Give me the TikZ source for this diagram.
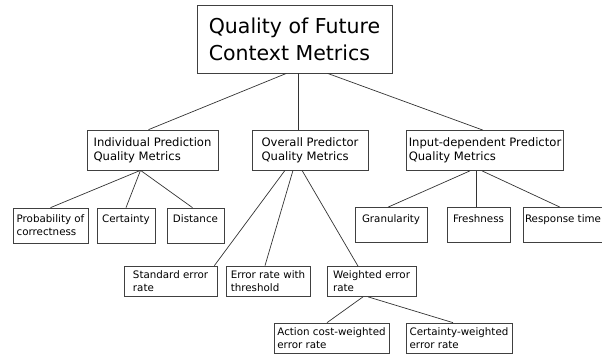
\documentclass[tikz,border=0pt]{standalone}
\usepackage{fontspec}
\setmainfont{DejaVu Sans}

\begin{document}
\begin{tikzpicture}[x=1pt, y=-1pt, line width=0.7pt,
        every node/.style={draw=black!75, align=left, inner sep=2pt},
        title/.style={font=\fontsize{20.5}{27}\selectfont},
        group/.style={font=\fontsize{11.6}{14}\selectfont, minimum height=40pt},
        metric/.style={font=\fontsize{10.3}{13}\selectfont, minimum height=35pt},
        rate/.style={font=\fontsize{10.3}{13}\selectfont, minimum height=30pt},
        every edge/.style={draw=black!80}]
        \useasboundingbox (0,0) rectangle (602,356);
        \clip (0,0) rectangle (602,356);

        \node[title, minimum width=195pt, minimum height=68pt] (quality) at (294.5,39) {Quality of Future\\Context Metrics};

        \node[group, minimum width=131pt] (individual) at (152.5,150) {Individual Prediction\\Quality Metrics};
        \node[group, minimum width=116pt] (overall) at (310,150) {Overall Predictor\\Quality Metrics};
        \node[group, minimum width=154pt] (inputdep) at (485,150.5) {Input-dependent Predictor\\Quality Metrics};

        \node[metric, minimum width=75pt] (probability) at (50.5,225.5) {Probability of\\correctness};
        \node[metric, minimum width=58pt] (certainty) at (126,225.5) {Certainty\\\mbox{}};
        \node[metric, minimum width=57pt] (distance) at (195.5,225.5) {Distance\\\mbox{}};

        \node[metric, minimum width=72pt] (granularity) at (391,225) {Granularity\\\mbox{}};
        \node[metric, minimum width=63pt] (freshness) at (478.5,225) {Freshness\\\mbox{}};
        \node[metric] (response) at (563,225) {Response time\\\mbox{}};

        \node[rate, minimum width=93pt] (standard) at (170.5,281) {Standard error\\rate};
        \node[rate, minimum width=84pt] (threshold) at (268,281) {Error rate with\\threshold};
        \node[rate, minimum width=89pt] (weighted) at (371.5,281.5) {Weighted error\\rate};

        \node[rate, minimum width=115pt] (actioncost) at (331.5,338) {Action cost-weighted\\error rate};
        \node[rate, minimum width=106pt] (certweighted) at (459,338) {Certainty-weighted\\error rate};

        \path ([xshift=-8pt]quality.south) edge ([xshift=-4pt]individual.north);
        \path ([xshift=3.5pt]quality.south) edge ([xshift=-12pt]overall.north);
        \path ([xshift=33pt]quality.south) edge ([xshift=-2pt]inputdep.north);

        \path ([xshift=-12pt]individual.south) edge (probability.north);
        \path ([xshift=-12pt]individual.south) edge (certainty.north);
        \path ([xshift=-12pt]individual.south) edge ([xshift=-3pt]distance.north);

        \path ([xshift=-25pt]overall.south) edge ([xshift=-3pt]standard.north east);
        \path ([xshift=-17pt]overall.south) edge ([xshift=-3pt]threshold.north);
        \path ([xshift=-8pt]overall.south) edge ([xshift=-13.5pt]weighted.north);

        \path ([xshift=-8.5pt]weighted.south) edge ([xshift=-4.5pt]actioncost.north);
        \path ([xshift=-3.5pt]weighted.south) edge ([xshift=-6pt]certweighted.north);

        \path ([xshift=-15pt]inputdep.south) edge ([xshift=-3pt]granularity.north);
        \path ([xshift=-9pt]inputdep.south) edge ([xshift=-2.5pt]freshness.north);
        \path ([xshift=-3pt]inputdep.south) edge ([xshift=-3pt]response.north);
    \end{tikzpicture}
\end{document}
